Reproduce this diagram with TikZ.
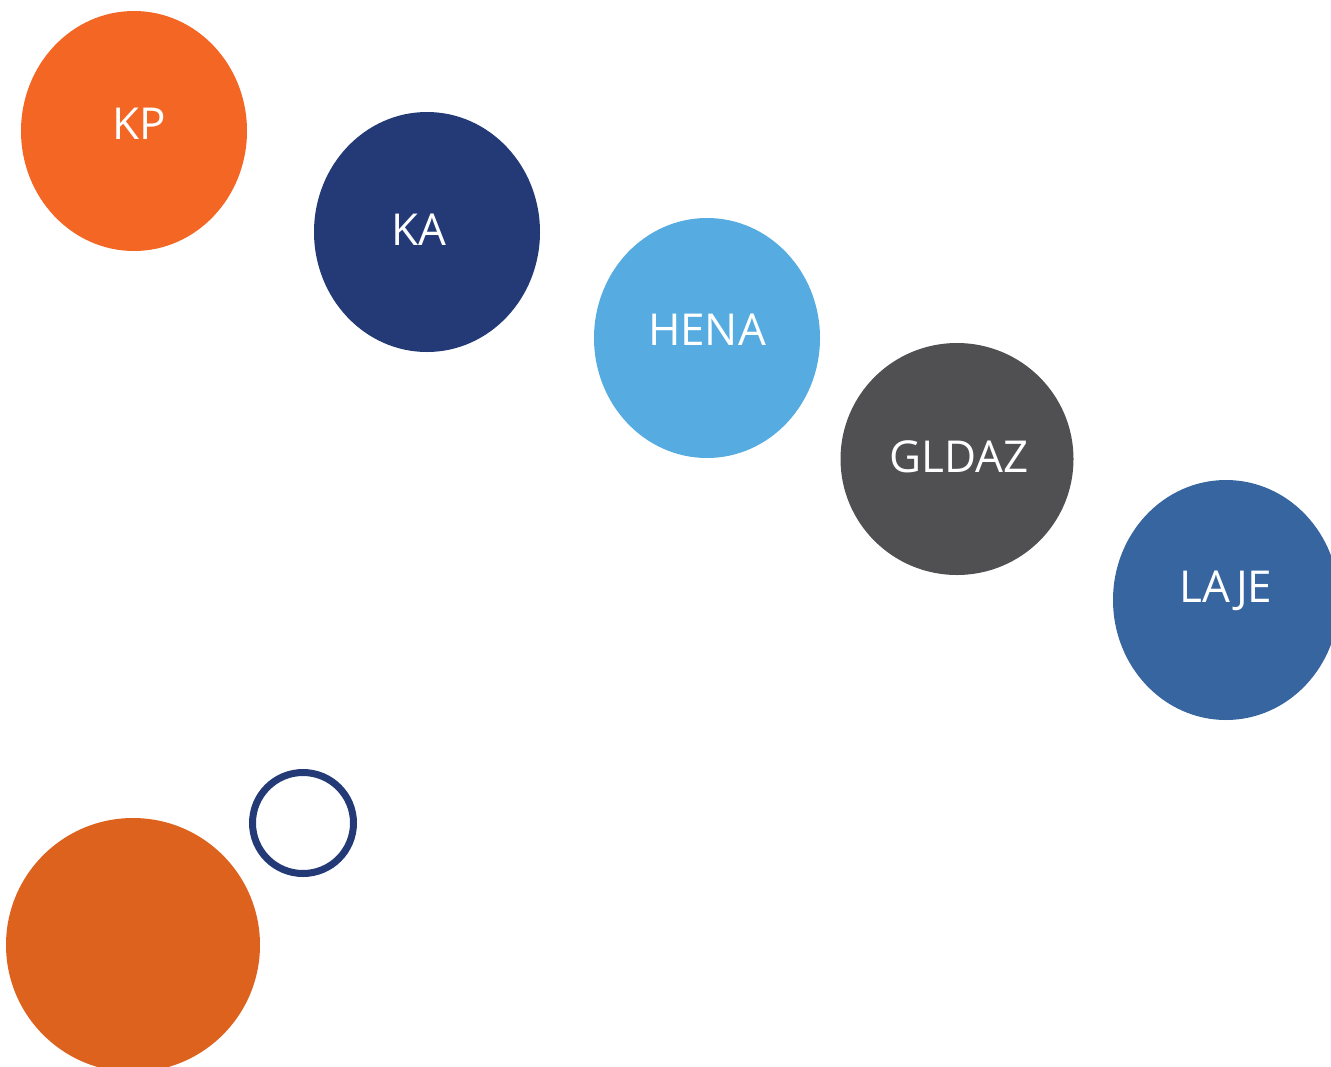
\documentclass[tikz,border=0pt]{standalone}
\usepackage{fontspec}
\setmainfont{Open Sans}
\usetikzlibrary{shapes.geometric}
\definecolor{cKP}{HTML}{F46624}
\definecolor{cKA}{HTML}{233A77}
\definecolor{cHENA}{HTML}{56ACE0}
\definecolor{cGLDAZ}{HTML}{505052}
\definecolor{cLAJE}{HTML}{36659F}
\definecolor{cBig}{HTML}{DD621E}
\begin{document}
\begin{tikzpicture}[x=1pt,y=-1pt,
  blob/.style={ellipse,draw=none,inner sep=0pt,minimum width=226pt,minimum height=240pt},
  lbl/.style={text=white,inner sep=0pt,font=\fontsize{44}{52}\selectfont}]
\useasboundingbox (0,0) rectangle (1331,1066);
\clip (0,0) rectangle (1331,1066);
\node[blob,fill=cKP] (kp) at (134,131) {};
\node[blob,fill=cKA] (ka) at (427,232) {};
\node[blob,fill=cHENA] (hena) at (707,338) {};
\node[blob,fill=cGLDAZ,minimum width=233pt,minimum height=232pt] (gldaz) at (957,459) {};
\node[blob,fill=cLAJE] (laje) at (1226,600) {};
\node[circle,fill=cBig,inner sep=0pt,minimum size=254pt] (big) at (133,945) {};
\node[circle,draw=cKA,line width=7pt,inner sep=0pt,minimum size=101pt] (ring) at (303,823) {};
\node[lbl] (kpt) at ([xshift=5pt,yshift=7pt]kp.center) {KP};
\node[lbl] (kat) at ([xshift=-8pt,yshift=2pt]ka.center) {KA};
\node[lbl] (henat) at ([yshift=8pt]hena.center) {HENA};
\node[lbl] (gldazt) at ([xshift=2pt,yshift=2pt]gldaz.center) {GLDAZ};
\node[lbl] (lajet) at ([yshift=9pt]laje.center) {LAJE};
\end{tikzpicture}
\end{document}
